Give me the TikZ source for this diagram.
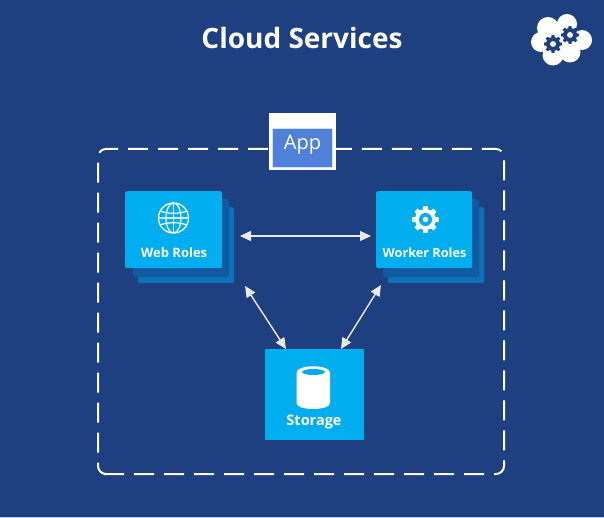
\documentclass[tikz,border=0pt]{standalone}
\usepackage{fontspec}
\setmainfont{Open Sans}
\usetikzlibrary{arrows.meta}
\definecolor{bgblue}{HTML}{1E3F80}
\definecolor{azure}{HTML}{00ADEF}
\definecolor{layerA}{HTML}{115AA0}
\definecolor{layerB}{HTML}{0E72BA}
\definecolor{appblue}{HTML}{4F81DB}
\tikzset{
  x=1pt,y=-1pt,
  card/.style={fill=azure,rounded corners=2pt},
  cardA/.style={fill=layerA,rounded corners=2pt},
  cardB/.style={fill=layerB,rounded corners=2pt},
  dbl/.style={draw=white!92!black,line width=1.4pt,{Triangle[length=11pt,width=10pt]}-{Triangle[length=11pt,width=10pt]}},
  lab/.style={text=white,font=\fontsize{13}{15}\selectfont\bfseries,inner sep=0pt},
  frameline/.style={white,line width=2pt,rounded corners=8pt,dash pattern=on 20pt off 10pt}
}
\newcommand{\gearshape}[4]{% x,y,scale,hole colour
  \begin{scope}[shift={(#1,#2)},x=#3pt,y=#3pt]
    \fill[white] (0,0) circle (1);
    \foreach \a in {0,45,...,315}
      \fill[white,rotate=\a] (-0.27,0.8) -- (-0.2,1.27) -- (0.2,1.27) -- (0.27,0.8) -- cycle;
    \fill[#4] (0,0) circle (0.62);
    \fill[white] (0,0) circle (0.26);
  \end{scope}}
\newcommand{\gearsolid}[3]{% x,y,scale: dark gear on the cloud
  \begin{scope}[shift={(#1,#2)},x=#3pt,y=#3pt]
    \fill[bgblue] (0,0) circle (1);
    \foreach \a in {0,45,...,315}
      \fill[bgblue,rotate=\a] (-0.27,0.8) -- (-0.2,1.27) -- (0.2,1.27) -- (0.27,0.8) -- cycle;
    \fill[white] (0,0) circle (0.42);
  \end{scope}}
\begin{document}
\begin{tikzpicture}
\useasboundingbox (0,0) rectangle (604,518);
\fill[bgblue] (0,0) rectangle (604,518);
\fill[white!75!bgblue] (0,517.2) rectangle (604,518);

\node[text=white,font=\fontsize{28}{32}\selectfont\bfseries,inner sep=0pt] (title) at (302,38.5) {Cloud Services};

% cloud logo
\fill[white] (541,42) circle (10) (548,28) circle (11) (567,24) circle (10) (582,40) circle (10)
  (553,55) circle (10.5) (570,52) circle (10.5) (562,40) circle (16);
\gearsolid{553}{44}{7}
\gearsolid{570}{35}{7}

% dashed frame
\draw[frameline] (268,149) -- (98,149) -- (98,474) -- (106,474);
\draw[frameline] (104,474) -- (504,474) -- (504,149) -- (335,149);

% app
\node[fill=white,minimum width=66.5pt,minimum height=57pt,inner sep=0pt,anchor=north west] (appbox) at (269,113) {};
\node[fill=appblue,draw=white!75!appblue,line width=.6pt,minimum width=60pt,minimum height=39pt,inner sep=0pt,anchor=north west] (app) at (272,128) {};
\node[text=white,font=\fontsize{20}{24}\selectfont,inner sep=0pt] (applabel) at (302.5,144.5) {App};

% web roles
\fill[cardB] (138,207) rectangle (234,283);
\fill[cardA] (133,199) rectangle (229,277);
\node[card,minimum width=97pt,minimum height=77pt,inner sep=0pt,anchor=north west] (web) at (125,191) {};
\node[lab] (weblabel) at (174,253) {Web Roles};
\draw[white,line width=1.3pt] (173.5,218) circle (15);
\draw[white,line width=1.2pt] (173.5,218) ellipse (7.5 and 15);
\draw[white,line width=1.2pt] (173.5,203) -- (173.5,233);
\draw[white,line width=1.2pt] (160,211) .. controls (168,214) and (179,214) .. (187,211);
\draw[white,line width=1.2pt] (160,225) .. controls (168,222) and (179,222) .. (187,225);
\draw[white!80!azure,line width=1.2pt] (159,218) -- (188,218);

% worker roles
\fill[cardB] (388,207) rectangle (484,283);
\fill[cardA] (383,199) rectangle (479,277);
\node[card,minimum width=96pt,minimum height=77pt,inner sep=0pt,anchor=north west] (worker) at (376,191) {};
\node[lab,font=\fontsize{12.7}{15}\selectfont\bfseries] (workerlabel) at (424.5,253) {Worker Roles};
\gearshape{425.5}{219.5}{10.5}{azure}

% storage
\node[fill=azure,minimum width=99pt,minimum height=91pt,inner sep=0pt,anchor=north west] (storage) at (265,349) {};
\node[lab,font=\fontsize{14.5}{17}\selectfont\bfseries] (storagelabel) at (314,421.5) {Storage};
\fill[white] (296.5,373) -- (296.5,403) .. controls (296.5,411) and (330,411) .. (330,403) -- (330,373) .. controls (330,364) and (296.5,364) .. (296.5,373) -- cycle;
\fill[azure] (313.5,372) ellipse (11.5 and 3);

% connectors
\coordinate (w1) at (240,236);
\coordinate (k1) at (371,236);
\coordinate (w2) at (245,286);
\coordinate (s1) at (286,349);
\coordinate (k2) at (381,285);
\coordinate (s2) at (341,349);
\draw[dbl] (w1) -- (k1);
\draw[dbl] (w2) -- (s1);
\draw[dbl] (k2) -- (s2);
\end{tikzpicture}
\end{document}
